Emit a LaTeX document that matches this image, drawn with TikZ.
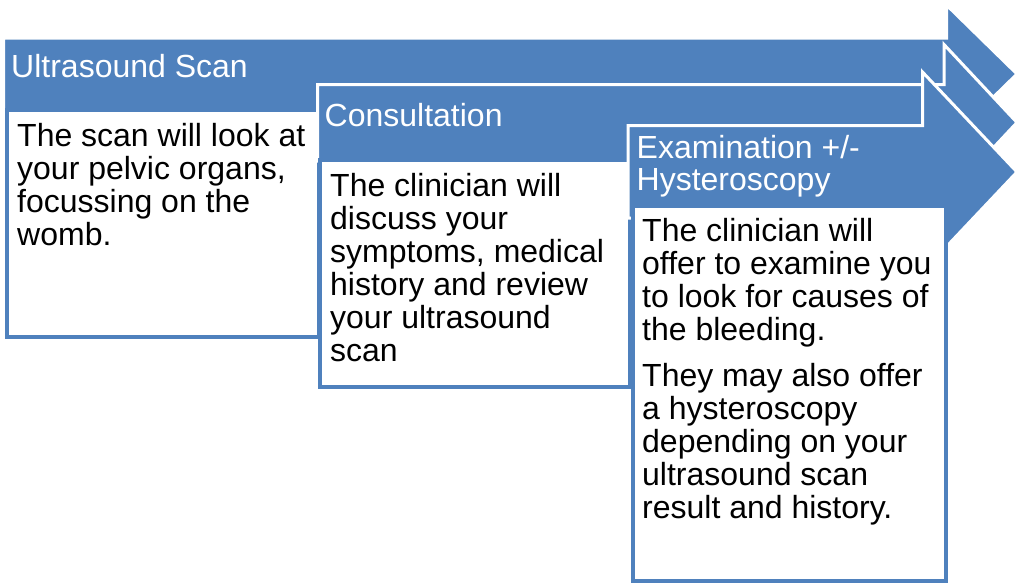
\documentclass[tikz,border=0pt]{standalone}
\usepackage{fontspec}
\setmainfont{Liberation Sans}
\definecolor{blueC}{RGB}{79,129,189}
\tikzset{
  arrowshape/.style={fill=blueC, draw=white, line width=3pt, line join=miter},
  textbox/.style={fill=white, draw=blueC, line width=4pt},
  headtext/.style={text=white, anchor=base west, inner sep=0pt, font=\fontsize{32pt}{32pt}\selectfont},
  bodytext/.style={text=black, anchor=base west, inner sep=0pt, font=\fontsize{32pt}{33pt}\selectfont}
}
\begin{document}
\begin{tikzpicture}[x=1pt,y=-1pt]
\useasboundingbox (0,0) rectangle (1020,584);
% step 1
\draw[arrowshape] (3.5,38) -- (946.5,38) -- (946.5,5) -- (1017,74) -- (946.5,143) -- (946.5,111) -- (3.5,111) -- cycle;
\draw[textbox] (7,110) rectangle (319,337);
% step 2
\draw[arrowshape] (317.5,84.5) -- (944,84.5) -- (944,44.5) -- (1017,122.5) -- (944,200.5) -- (944,161) -- (317.5,161) -- cycle;
\draw[textbox] (320,160) rectangle (630,387);
% step 3
\draw[arrowshape] (628,125.5) -- (922.5,125.5) -- (922.5,72) -- (1017,172) -- (922.5,272) -- (922.5,218) -- (628,218) -- cycle;
\draw[textbox] (633,206) rectangle (946,581);
% headers
\node[headtext] (h1) at (11,77) {Ultrasound Scan};
\node[headtext] (h2) at (324.5,126) {Consultation};
\node[headtext] (h3) at (636.5,158) {\parbox[t]{300pt}{\raggedright Examination +/-\\Hysteroscopy}};
% bodies
\node[bodytext] (b1) at (17,146) {\parbox[t]{320pt}{\raggedright The scan will look at\\your pelvic organs,\\focussing on the\\womb.}};
\node[bodytext] (b2) at (330,196) {\parbox[t]{320pt}{\raggedright The clinician will\\discuss your\\symptoms, medical\\history and review\\your ultrasound\\scan}};
\node[bodytext] (b3) at (642,241) {\parbox[t]{320pt}{\raggedright The clinician will\\offer to examine you\\to look for causes of\\the bleeding.\\[13pt]They may also offer\\a hysteroscopy\\depending on your\\ultrasound scan\\result and history.}};
\end{tikzpicture}
\end{document}
